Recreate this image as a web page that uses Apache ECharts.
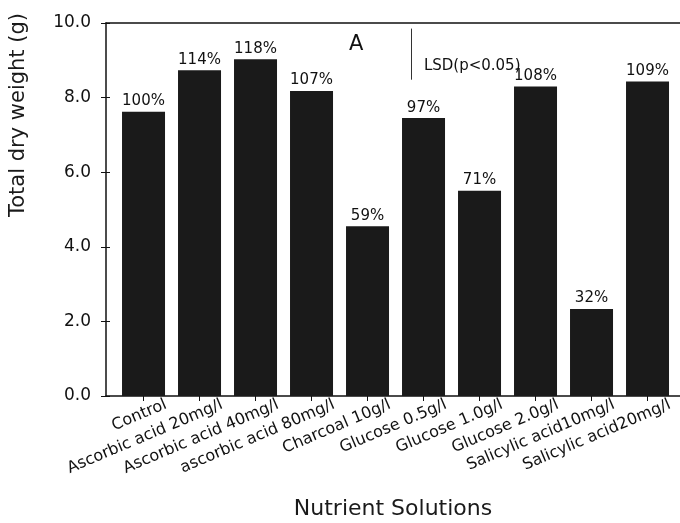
<!DOCTYPE html>
<html><head><meta charset="utf-8">
<script src="https://cdn.jsdelivr.net/npm/echarts@6/dist/echarts.min.js"></script>
<style>html,body{margin:0;padding:0;background:#fff}#c{width:680px;height:523px}</style>
</head><body><div id="c"></div>
<script>
const categories = ['Control','Ascorbic acid 20mg/l','Ascorbic acid 40mg/l','ascorbic acid 80mg/l','Charcoal 10g/l','Glucose 0.5g/l','Glucose 1.0g/l','Glucose 2.0g/l','Salicylic acid10mg/l','Salicylic acid20mg/l'];
const dryWeight = [7.62, 8.73, 9.03, 8.18, 4.55, 7.45, 5.5, 8.3, 2.33, 8.43];
const percents = ['100%','114%','118%','107%','59%','97%','71%','108%','32%','109%'];
const yTicks = [0, 2, 4, 6, 8, 10];
const lsdX = 4.78;
const lsdTop = 9.85;
const lsdValue = 1.37;

const labelShift = 0.4;
const idx = categories.map((_, i) => i);
const labelPos = idx.map(i => i + labelShift);

const chart = echarts.init(document.getElementById('c'), null, {renderer:'canvas'});
chart.setOption({
  animation: false,
  backgroundColor: '#fff',
  grid: {left: 106, right: 0, top: 23, bottom: 127, outerBoundsMode: 'none', containLabel: false},
  title: [
    {text: 'A', left: 344, top: 29, textStyle: {fontFamily: 'DejaVu Sans', fontSize: 21, fontWeight: 'normal', color: '#111'}}
  ],
  graphic: [{
    type: 'text', x: 19, y: 115, rotation: Math.PI / 2,
    style: {text: 'Total dry weight (g)', fontFamily: 'DejaVu Sans', fontSize: 21, fill: '#1a1a1a', textAlign: 'center', textVerticalAlign: 'middle'}
  }],
  xAxis: [{
    type: 'value', min: -0.67, max: 9.58,
    name: 'Nutrient Solutions', nameLocation: 'middle', nameGap: 102,
    nameTextStyle: {fontFamily: 'DejaVu Sans', fontSize: 22, color: '#1a1a1a'},
    splitLine: {show: false},
    axisLine: {show: true, onZero: false, lineStyle: {color: '#111', width: 1.5}},
    axisTick: {show: true, length: 5, customValues: idx, lineStyle: {color: '#111'}},
    axisLabel: {customValues: labelPos, rotate: 23, margin: 8, hideOverlap: false,
      showMinLabel: true, showMaxLabel: true,
      formatter: v => categories[Math.round(v - labelShift)],
      fontFamily: 'DejaVu Sans', fontSize: 16, color: '#111'}
  }, {
    type: 'value', position: 'top', min: -0.67, max: 9.58,
    splitLine: {show: false},
    axisLine: {show: true, onZero: false, lineStyle: {color: '#111', width: 1.5}},
    axisTick: {show: false}, axisLabel: {show: false}
  }],
  yAxis: [{
    type: 'value', min: 0, max: 10, interval: 2, position: 'left',
    splitLine: {show: false},
    axisLine: {show: true, onZero: false, lineStyle: {color: '#111', width: 1.5}},
    axisTick: {show: true, length: 5, lineStyle: {color: '#111'}},
    axisLabel: {margin: 15, showMinLabel: true, showMaxLabel: true, formatter: v => yTicks.includes(v) ? v.toFixed(1) : '', fontFamily: 'DejaVu Sans', fontSize: 17, color: '#111'}
  }, {
    type: 'value', min: 0, max: 10, interval: 2, position: 'left',
    splitLine: {show: false},
    axisLine: {show: false, onZero: false},
    axisTick: {show: true, inside: true, length: 4, lineStyle: {color: '#111'}},
    axisLabel: {show: false}
  }],
  series: [{
    type: 'bar',
    xAxisIndex: 0, yAxisIndex: 0,
    barWidth: 43,
    data: dryWeight.map((v, i) => [i, v]),
    itemStyle: {color: '#1a1a1a'},
    label: {show: true, position: 'top', distance: 3, formatter: p => percents[p.dataIndex], fontFamily: 'DejaVu Sans', fontSize: 15, color: '#111'},
    markLine: {
      symbol: 'none', silent: true,
      lineStyle: {color: '#333', width: 1, type: 'solid'},
      label: {show: true, position: 'end', formatter: 'LSD(p<0.05)', fontFamily: 'DejaVu Sans', fontSize: 15, color: '#111', offset: [61, -26]},
      data: [[{coord: [lsdX, lsdTop]}, {coord: [lsdX, lsdTop - lsdValue]}]]
    }
  }]
});
</script></body></html>
